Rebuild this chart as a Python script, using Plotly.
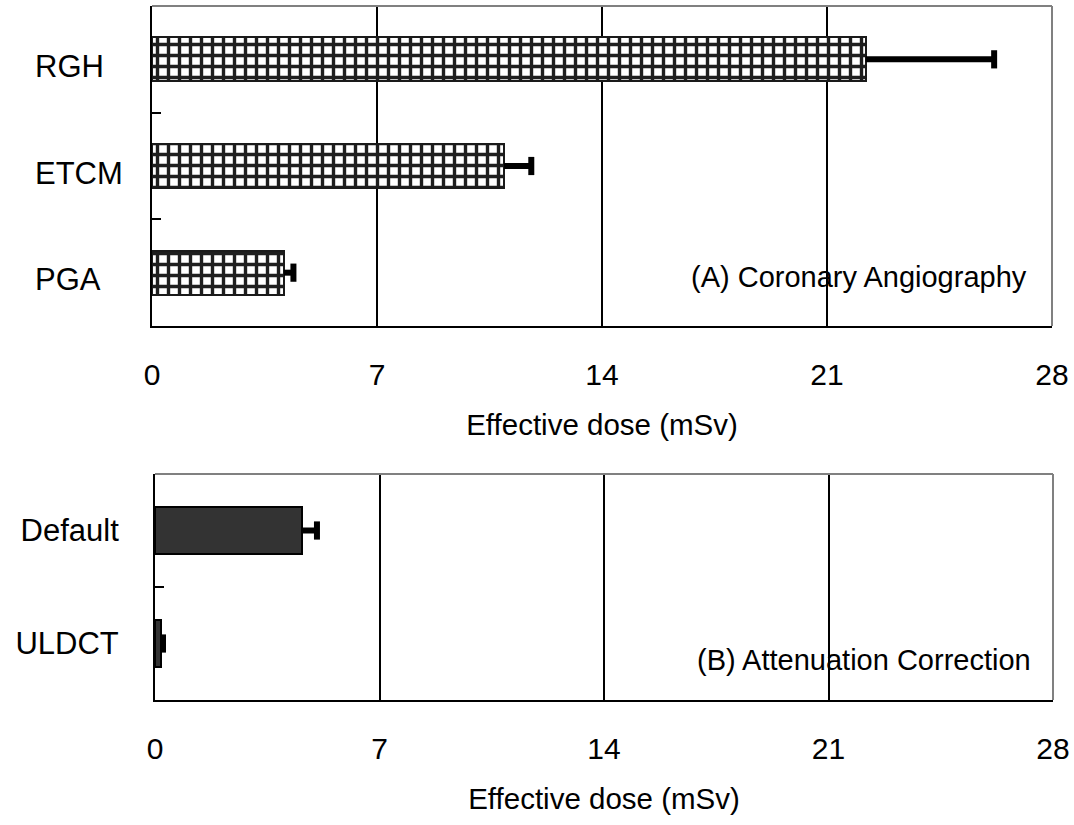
import plotly.graph_objects as go

# ---- data ----
cats_a = ["PGA", "ETCM", "RGH"]
dose_a = [4.1, 10.95, 22.2]
err_a = [0.3, 0.85, 4.0]

cats_b = ["ULDCT", "Default"]
dose_b = [0.2, 4.58]
err_b = [0.05, 0.47]

x_ticks = [0, 7, 14, 21, 28]
x_title = "Effective dose (mSv)"
label_a = "(A) Coronary Angiography"
label_b = "(B) Attenuation Correction"

FONT = "Liberation Sans, Arial, sans-serif"
W, H = 1074, 825

fig = go.Figure()

# top panel bars (grid pattern)
fig.add_trace(go.Bar(
    x=dose_a, y=cats_a, orientation="h", width=0.41,
    marker=dict(color="white", line=dict(color="#1a1a1a", width=2),
                pattern=dict(shape="+", fgcolor="#1e1e1e", bgcolor="white",
                             fgopacity=1, size=11, solidity=0.52)),
    error_x=dict(type="data", symmetric=False, array=err_a,
                 arrayminus=[0] * len(err_a), color="black",
                 thickness=6, width=0),
    xaxis="x", yaxis="y", showlegend=False,
))
fig.add_trace(go.Scatter(
    x=[d + e for d, e in zip(dose_a, err_a)], y=cats_a, mode="markers",
    marker=dict(symbol="line-ns", size=13, line=dict(color="black", width=6)),
    xaxis="x", yaxis="y", showlegend=False, hoverinfo="skip",
))

# bottom panel bars (solid dark)
fig.add_trace(go.Bar(
    x=dose_b, y=cats_b, orientation="h", width=0.42,
    marker=dict(color="#333333", line=dict(color="black", width=2)),
    error_x=dict(type="data", symmetric=False, array=err_b,
                 arrayminus=[0] * len(err_b), color="black",
                 thickness=6, width=0),
    xaxis="x2", yaxis="y2", showlegend=False,
))
fig.add_trace(go.Scatter(
    x=[d + e for d, e in zip(dose_b, err_b)], y=cats_b, mode="markers",
    marker=dict(symbol="line-ns", size=13, line=dict(color="black", width=6)),
    xaxis="x2", yaxis="y2", showlegend=False, hoverinfo="skip",
))

xcommon = dict(range=[0, 28], tickvals=x_ticks, showgrid=True, gridcolor="black",
               gridwidth=1.5, showline=True, linecolor="black", linewidth=2,
               ticks="", zeroline=False, ticklabelstandoff=21,
               tickfont=dict(family=FONT, size=30, color="black"),
               title=dict(text=x_title, font=dict(family=FONT, size=29.5, color="black"),
                          standoff=24),
               automargin=False, fixedrange=True)
ycommon = dict(type="category", tickson="boundaries", ticks="inside", ticklen=9,
               tickwidth=2, tickcolor="black", showline=True, linecolor="black",
               linewidth=2, showgrid=False, zeroline=False, automargin=False,
               fixedrange=True)

fig.update_layout(
    width=W, height=H,
    margin=dict(l=0, r=0, t=0, b=0),
    paper_bgcolor="white", plot_bgcolor="white",
    bargap=0,
    xaxis=dict(domain=[152 / W, 1052 / W], anchor="y", **xcommon),
    yaxis=dict(domain=[1 - 326 / H, 1 - 6 / H], anchor="x", range=[-0.5, 2.5],
               categoryorder="array", categoryarray=cats_a,
               showticklabels=False, **ycommon),
    xaxis2=dict(domain=[155 / W, 1053 / W], anchor="y2", **xcommon),
    yaxis2=dict(domain=[1 - 700 / H, 1 - 474 / H], anchor="x2", range=[-0.5, 1.5],
                categoryorder="array", categoryarray=cats_b,
                showticklabels=True, ticklabelstandoff=28,
                tickfont=dict(family=FONT, size=31, color="black"), **ycommon),
)

# grey top/right frame edges
for xr, yr in [("x domain", "y domain"), ("x2 domain", "y2 domain")]:
    fig.add_shape(type="line", xref=xr, yref=yr, x0=0, x1=1, y0=1, y1=1,
                  line=dict(color="#808080", width=2), layer="above")
    fig.add_shape(type="line", xref=xr, yref=yr, x0=1, x1=1, y0=0, y1=1,
                  line=dict(color="#808080", width=2), layer="above")

# left-aligned category labels for top panel
for c in cats_a:
    fig.add_annotation(x=33 / W, xref="paper", xanchor="left", y=c, yref="y",
                       yshift=-7, text=c, showarrow=False,
                       font=dict(family=FONT, size=31, color="black"))

fig.add_annotation(x=1029 / W, xref="paper", xanchor="right", y=1 - 277 / H,
                   yref="paper", yanchor="middle", text=label_a, showarrow=False,
                   font=dict(family=FONT, size=29, color="black"))
fig.add_annotation(x=1033 / W, xref="paper", xanchor="right", y=1 - 660 / H,
                   yref="paper", yanchor="middle", text=label_b, showarrow=False,
                   font=dict(family=FONT, size=29, color="black"))

fig.write_html("out.html", config={"displayModeBar": False},
               post_script="document.body.style.margin='0';")
